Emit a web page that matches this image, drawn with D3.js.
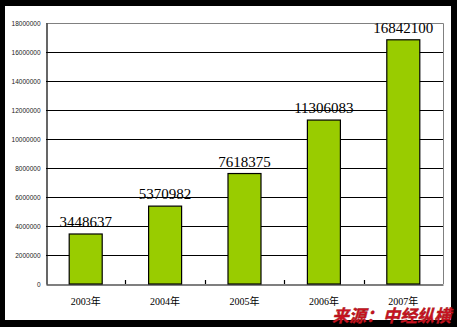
<!DOCTYPE html>
<html>
<head>
<meta charset="utf-8">
<script src="https://cdn.jsdelivr.net/npm/d3@7"></script>
<style>
  body { margin: 0; background: #000; }
  svg { display: block; }
</style>
</head>
<body>
<svg id="chart" width="457" height="327"></svg>
<script>
/*---- DATA ----*/
var years = ["2003年", "2004年", "2005年", "2006年", "2007年"];
var values = [3448637, 5370982, 7618375, 11306083, 16842100];
var y_ticks = [0, 2000000, 4000000, 6000000, 8000000, 10000000, 12000000, 14000000, 16000000, 18000000];
var source_txt = "来源：中经纵横";

/*---- LAYOUT ----*/
var plot = { left: 46, right: 443, top: 23, bottom: 284 };

var svg = d3.select("#chart");

// white page inside the black frame
svg.append("rect")
    .attr("x", 5).attr("y", 6)
    .attr("width", 446).attr("height", 314)
    .attr("fill", "#fff");

var x = d3.scaleBand()
    .domain(years)
    .range([plot.left, plot.right]);

var y = d3.scaleLinear()
    .domain([0, 18000000])
    .range([plot.bottom, plot.top]);

// grid lines
svg.append("g")
    .selectAll("line")
    .data(y_ticks.slice(1, -1))
    .enter()
    .append("line")
    .attr("x1", plot.left).attr("x2", plot.right)
    .attr("y1", function(d) { return Math.round(y(d)) + 0.5; })
    .attr("y2", function(d) { return Math.round(y(d)) + 0.5; })
    .attr("stroke", "#000")
    .attr("stroke-width", 1.2);

// top + right border (gray)
svg.append("path")
    .attr("d", "M" + plot.left + "," + (plot.top + 0.5) + "H" + (plot.right + 0.5) + "V" + plot.bottom)
    .attr("fill", "none")
    .attr("stroke", "#808080")
    .attr("stroke-width", 1);

// bars
var bar_w = 33;
svg.append("g")
    .selectAll("rect")
    .data(values)
    .enter()
    .append("rect")
    .attr("x", function(d, i) { return x(years[i]) + x.bandwidth() / 2 - bar_w / 2; })
    .attr("y", function(d) { return y(d); })
    .attr("width", bar_w)
    .attr("height", function(d) { return plot.bottom - y(d); })
    .attr("fill", "#99cc00")
    .attr("stroke", "#000")
    .attr("stroke-width", 1.2);

// value labels
svg.append("g")
    .selectAll("text")
    .data(values)
    .enter()
    .append("text")
    .attr("x", function(d, i) { return x(years[i]) + x.bandwidth() / 2; })
    .attr("y", function(d) { return y(d) - 7; })
    .attr("text-anchor", "middle")
    .attr("font-family", "Liberation Serif, serif")
    .attr("font-size", 15)
    .attr("fill", "#000")
    .text(function(d) { return d; });

// y axis
var y_axis = d3.axisLeft(y)
    .tickValues(y_ticks)
    .tickSize(0)
    .tickPadding(6)
    .tickFormat(function(d) { return d; });

var ya = svg.append("g")
    .attr("transform", "translate(" + (plot.left + 0.5) + ",0)")
    .call(y_axis);
ya.select(".domain").attr("stroke", "#000").attr("stroke-width", 1.2);
ya.selectAll("text")
    .attr("font-family", "Liberation Sans, Arial, sans-serif")
    .attr("font-size", 6.5)
    .attr("fill", "#222");

// x axis
var x_axis = d3.axisBottom(x)
    .tickSize(0)
    .tickPadding(13);

var xa = svg.append("g")
    .attr("transform", "translate(0," + (plot.bottom + 0.5) + ")")
    .call(x_axis);
xa.select(".domain").attr("stroke", "#000").attr("stroke-width", 1.2);
xa.selectAll("text")
    .attr("font-family", "Liberation Serif, 'Noto Sans CJK SC', serif")
    .attr("font-size", 10)
    .attr("fill", "#000");

// category separators (inner ticks)
svg.append("g")
    .selectAll("line")
    .data(years.slice(1))
    .enter()
    .append("line")
    .attr("x1", function(d) { return Math.round(x(d)) + 0.5; })
    .attr("x2", function(d) { return Math.round(x(d)) + 0.5; })
    .attr("y1", plot.bottom - 4)
    .attr("y2", plot.bottom)
    .attr("stroke", "#000")
    .attr("stroke-width", 1.2);

// source watermark
svg.append("text")
    .attr("x", 451)
    .attr("y", 322)
    .attr("text-anchor", "end")
    .attr("font-family", "Noto Sans CJK SC, sans-serif")
    .attr("font-weight", "bold")
    .attr("font-style", "italic")
    .attr("font-size", 17)
    .attr("fill", "#cc1122")
    .attr("stroke", "#991111")
    .attr("stroke-width", 0.4)
    .text(source_txt);
</script>
</body>
</html>
